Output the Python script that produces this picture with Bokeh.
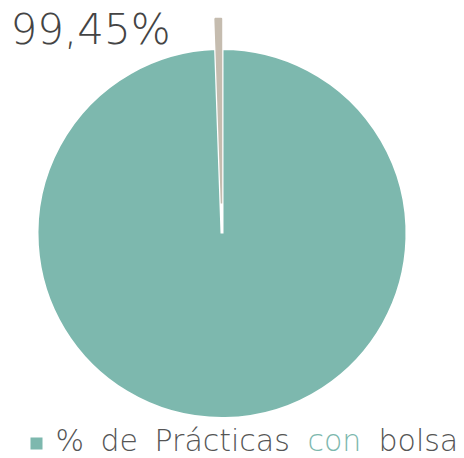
import math
import numpy as np
from bokeh.plotting import figure
from bokeh.models import Range1d
from bokeh.core.properties import value
from bokeh.embed import file_html
from bokeh.resources import INLINE

# ---- data ----
categories = ["con bolsa", "sin bolsa"]
percentages = [99.45, 0.55]
slice_colors = ["#7db8ae", "#c5bcaf"]
explode = [0, 30]
title_label = "99,45%"
legend_words = ["%", "de", "Prácticas", "con", "bolsa"]
legend_word_colors = ["#555555", "#555555", "#555555", "#7db8ae", "#555555"]

W, H = 464, 458
p = figure(width=W, height=H, output_backend="svg", toolbar_location=None,
           x_range=Range1d(0, W), y_range=Range1d(0, H), min_border=0)
p.axis.visible = False
p.grid.visible = False
p.outline_line_color = None
p.background_fill_color = "white"
p.border_fill_color = "white"

cx, cy, r = 221.5, 225, 185
fr = np.array(percentages) / 100.0
ang = fr * 2 * math.pi
start_b = math.pi / 2
end_b = start_b + ang[1]
starts = [end_b, start_b]
ends = [start_b + 2 * math.pi, end_b]
xs, ys = [], []
for i in range(2):
    mid = (starts[i] + ends[i]) / 2
    xs.append(cx + explode[i] * math.cos(mid))
    ys.append(cy + explode[i] * math.sin(mid))

p.wedge(x=xs[0], y=ys[0], radius=r, start_angle=starts[0], end_angle=ends[0],
        fill_color=slice_colors[0], line_color="white", line_width=3)
p.wedge(x=xs[1], y=ys[1], radius=r, start_angle=starts[1], end_angle=ends[1],
        fill_color=slice_colors[1], line_color=slice_colors[1], line_width=1.5)

font_stack = value("'DejaVu Sans Light', 'DejaVu Sans ExtraLight', 'DejaVu Sans'")
p.text(x=[10], y=[429], text=[title_label], text_font=font_stack,
       text_font_size="42px", text_color="#444444", text_baseline="alphabetic")

p.rect(x=[36], y=[15], width=12, height=12, fill_color=slice_colors[0], line_color=None)
legend_x = [55, 100, 154, 307, 378]
p.text(x=legend_x, y=[18] * len(legend_words), text=legend_words, text_color=legend_word_colors,
       text_font=font_stack, text_font_size="30px", text_baseline="alphabetic")

open("out.html", "w").write(file_html(p, INLINE))
